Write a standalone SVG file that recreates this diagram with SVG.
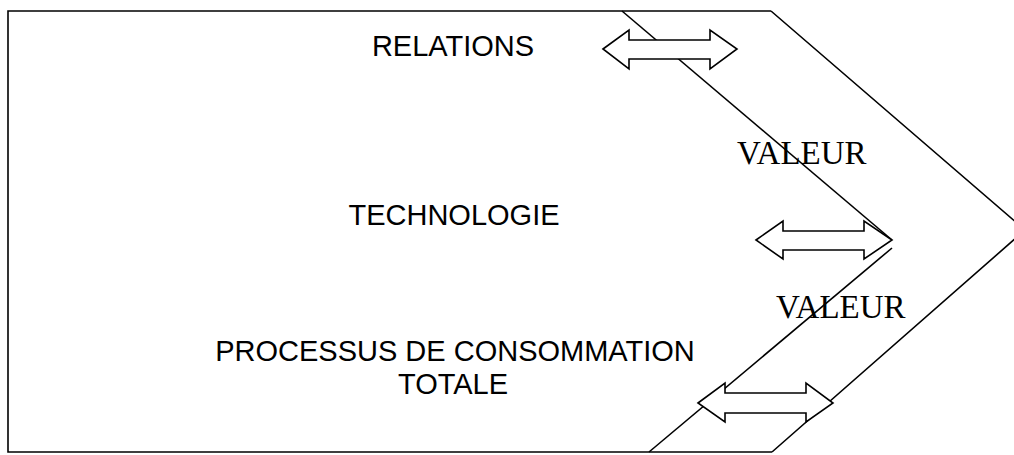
<svg xmlns="http://www.w3.org/2000/svg" width="1014" height="455" viewBox="0 0 1014 455">
<style>
.ln{fill:none;stroke:#000;stroke-width:1.6;stroke-linejoin:miter}
.ar{fill:#fff;stroke:#000;stroke-width:1.6;stroke-linejoin:miter}
.sa{font-family:"Liberation Sans",Arial,sans-serif;font-size:29px;fill:#000;text-anchor:middle}
.se{font-family:"Liberation Serif","Times New Roman",serif;font-size:33px;fill:#000}
</style>
<rect width="1014" height="455" fill="#fff"/>
<g id="frame">
<polyline class="ln" points="771,11 8,11 8,452 772,452"/>
<polyline class="ln" points="771,11 1025,230 772,452"/>
</g>
<g id="value-line">
<line class="ln" x1="622" y1="11" x2="892" y2="240"/>
<line class="ln" x1="892" y1="248" x2="649" y2="452"/>
</g>
<g id="relations"><text class="sa" x="453" y="56">RELATIONS</text></g>
<g id="technologie"><text class="sa" x="454" y="225">TECHNOLOGIE</text></g>
<g id="processus"><text class="sa" x="455" y="361">PROCESSUS DE CONSOMMATION</text><text class="sa" x="453" y="394">TOTALE</text></g>
<g id="valeur1"><text class="se" x="737" y="164">VALEUR</text></g>
<g id="valeur2"><text class="se" x="776" y="318">VALEUR</text></g>
<g id="connectors">
<polygon class="ar" points="603,49 629,30 629,40 710,40 710,30 737,49 710,69 710,59 629,59 629,69"/>
<polygon class="ar" points="756,240 783,221 783,231 864,231 864,221 892,240 864,259 864,250 783,250 783,259"/>
<polygon class="ar" points="698,403 725,383 725,393 806,393 806,383 833,403 806,422 806,413 725,413 725,422"/>
</g>
</svg>
